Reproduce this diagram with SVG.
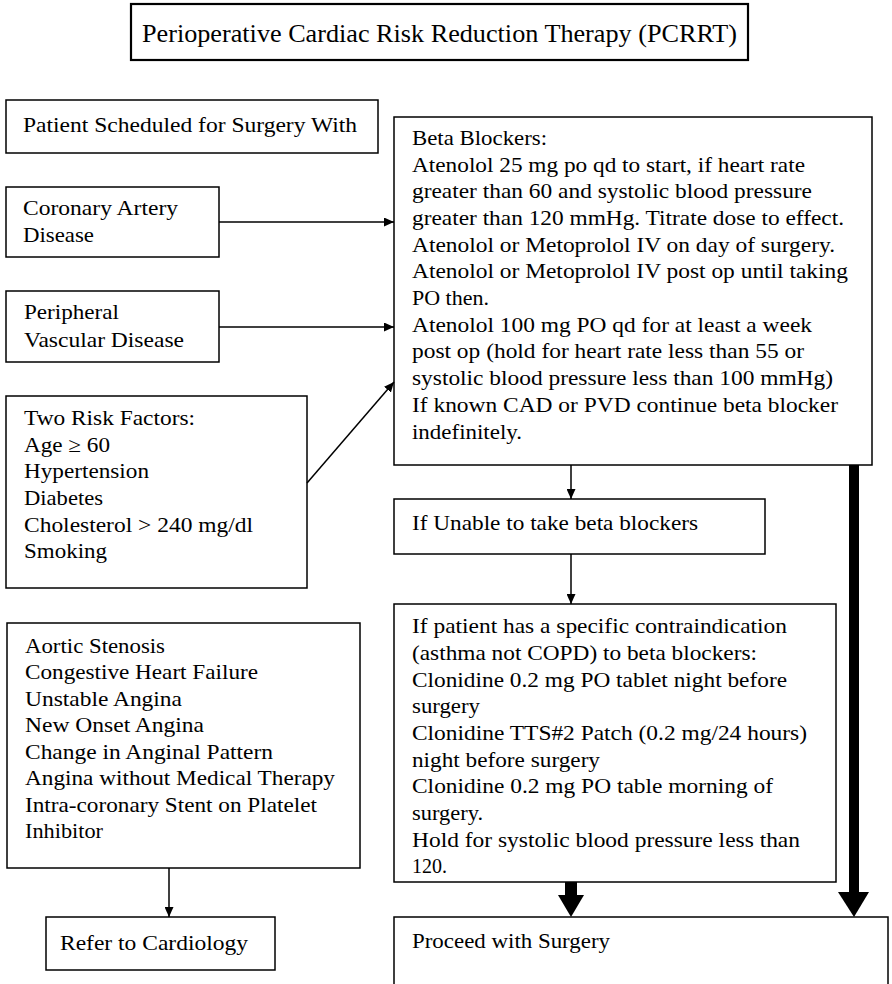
<svg xmlns="http://www.w3.org/2000/svg" width="892" height="984" viewBox="0 0 892 984">
<style>
.bg{fill:#ffffff}
.box{fill:#ffffff;stroke:#000000;stroke-width:1.5}
.tbox{fill:#ffffff;stroke:#000000;stroke-width:2.2}
.t{font-family:"Liberation Serif","Times New Roman",serif;font-size:21px;fill:#000000}
.title{font-family:"Liberation Serif","Times New Roman",serif;font-size:25px;fill:#000000}
.ln{stroke:#000000;stroke-width:1.5;fill:none}
.thick{fill:#000000;stroke:none}
</style>
<defs>
<marker id="ah" markerUnits="userSpaceOnUse" markerWidth="11" markerHeight="9" refX="10" refY="4.5" orient="auto">
<path d="M0,0 L10,4.5 L0,9 Z" fill="#000000"/>
</marker>
</defs>
<rect class="bg" x="0" y="0" width="892" height="984"/>

<g id="title">
<rect class="tbox" x="131" y="4" width="617" height="56"/>
<text class="title" x="142" y="42" textLength="595" lengthAdjust="spacingAndGlyphs">Perioperative Cardiac Risk Reduction Therapy (PCRRT)</text>
</g>

<g id="patient">
<rect class="box" x="6" y="100" width="372" height="53"/>
<text class="t" x="23" y="132" textLength="334" lengthAdjust="spacingAndGlyphs">Patient Scheduled for Surgery With</text>
</g>

<g id="cad">
<rect class="box" x="6" y="187" width="213" height="70"/>
<text class="t" x="23" y="215" textLength="155" lengthAdjust="spacingAndGlyphs">Coronary Artery</text>
<text class="t" x="23" y="242" textLength="71" lengthAdjust="spacingAndGlyphs">Disease</text>
</g>

<g id="pvd">
<rect class="box" x="6" y="291" width="213" height="71"/>
<text class="t" x="24" y="319" textLength="95" lengthAdjust="spacingAndGlyphs">Peripheral</text>
<text class="t" x="24" y="347" textLength="160" lengthAdjust="spacingAndGlyphs">Vascular Disease</text>
</g>

<g id="risk">
<rect class="box" x="6" y="396" width="301" height="192"/>
<text class="t" x="24" y="425" textLength="171" lengthAdjust="spacingAndGlyphs">Two Risk Factors:</text>
<text class="t" x="24" y="452" textLength="86" lengthAdjust="spacingAndGlyphs">Age ≥ 60</text>
<text class="t" x="24" y="478" textLength="125" lengthAdjust="spacingAndGlyphs">Hypertension</text>
<text class="t" x="24" y="505" textLength="79" lengthAdjust="spacingAndGlyphs">Diabetes</text>
<text class="t" x="24" y="532" textLength="229" lengthAdjust="spacingAndGlyphs">Cholesterol &gt; 240 mg/dl</text>
<text class="t" x="24" y="558" textLength="83" lengthAdjust="spacingAndGlyphs">Smoking</text>
</g>

<g id="aortic">
<rect class="box" x="7" y="623" width="353" height="245"/>
<text class="t" x="25" y="653" textLength="140" lengthAdjust="spacingAndGlyphs">Aortic Stenosis</text>
<text class="t" x="25" y="679" textLength="233" lengthAdjust="spacingAndGlyphs">Congestive Heart Failure</text>
<text class="t" x="25" y="706" textLength="157" lengthAdjust="spacingAndGlyphs">Unstable Angina</text>
<text class="t" x="25" y="732" textLength="179" lengthAdjust="spacingAndGlyphs">New Onset Angina</text>
<text class="t" x="25" y="759" textLength="248" lengthAdjust="spacingAndGlyphs">Change in Anginal Pattern</text>
<text class="t" x="25" y="785" textLength="310" lengthAdjust="spacingAndGlyphs">Angina without Medical Therapy</text>
<text class="t" x="25" y="812" textLength="292" lengthAdjust="spacingAndGlyphs">Intra-coronary Stent on Platelet</text>
<text class="t" x="25" y="838" textLength="78" lengthAdjust="spacingAndGlyphs">Inhibitor</text>
</g>

<g id="refer">
<rect class="box" x="46" y="917" width="229" height="53"/>
<text class="t" x="60" y="950" textLength="188" lengthAdjust="spacingAndGlyphs">Refer to Cardiology</text>
</g>

<g id="beta">
<rect class="box" x="394" y="117" width="478" height="348"/>
<text class="t" x="412" y="145" textLength="135" lengthAdjust="spacingAndGlyphs">Beta Blockers:</text>
<text class="t" x="412" y="172" textLength="393" lengthAdjust="spacingAndGlyphs">Atenolol 25 mg po qd to start, if heart rate</text>
<text class="t" x="412" y="198" textLength="400" lengthAdjust="spacingAndGlyphs">greater than 60 and systolic blood pressure</text>
<text class="t" x="412" y="225" textLength="432" lengthAdjust="spacingAndGlyphs">greater than 120 mmHg. Titrate dose to effect.</text>
<text class="t" x="412" y="252" textLength="423" lengthAdjust="spacingAndGlyphs">Atenolol or Metoprolol IV on day of surgery.</text>
<text class="t" x="412" y="278" textLength="436" lengthAdjust="spacingAndGlyphs">Atenolol or Metoprolol IV post op until taking</text>
<text class="t" x="412" y="305" textLength="77" lengthAdjust="spacingAndGlyphs">PO then.</text>
<text class="t" x="412" y="332" textLength="400" lengthAdjust="spacingAndGlyphs">Atenolol 100 mg PO qd for at least a week</text>
<text class="t" x="412" y="358" textLength="392" lengthAdjust="spacingAndGlyphs">post op (hold for heart rate less than 55 or</text>
<text class="t" x="412" y="385" textLength="421" lengthAdjust="spacingAndGlyphs">systolic blood pressure less than 100 mmHg)</text>
<text class="t" x="412" y="412" textLength="426" lengthAdjust="spacingAndGlyphs">If known CAD or PVD continue beta blocker</text>
<text class="t" x="412" y="439" textLength="110" lengthAdjust="spacingAndGlyphs">indefinitely.</text>
</g>

<g id="unable">
<rect class="box" x="394" y="499" width="371" height="55"/>
<text class="t" x="412" y="530" textLength="286" lengthAdjust="spacingAndGlyphs">If Unable to take beta blockers</text>
</g>

<g id="contra">
<rect class="box" x="394" y="604" width="442" height="278"/>
<text class="t" x="412" y="633" textLength="375" lengthAdjust="spacingAndGlyphs">If patient has a specific contraindication</text>
<text class="t" x="412" y="660" textLength="345" lengthAdjust="spacingAndGlyphs">(asthma not COPD) to beta blockers:</text>
<text class="t" x="412" y="687" textLength="375" lengthAdjust="spacingAndGlyphs">Clonidine 0.2 mg PO tablet night before</text>
<text class="t" x="412" y="713" textLength="68" lengthAdjust="spacingAndGlyphs">surgery</text>
<text class="t" x="412" y="740" textLength="395" lengthAdjust="spacingAndGlyphs">Clonidine TTS#2 Patch (0.2 mg/24 hours)</text>
<text class="t" x="412" y="767" textLength="188" lengthAdjust="spacingAndGlyphs">night before surgery</text>
<text class="t" x="412" y="793" textLength="361" lengthAdjust="spacingAndGlyphs">Clonidine 0.2 mg PO table morning of</text>
<text class="t" x="412" y="820" textLength="71" lengthAdjust="spacingAndGlyphs">surgery.</text>
<text class="t" x="412" y="847" textLength="388" lengthAdjust="spacingAndGlyphs">Hold for systolic blood pressure less than</text>
<text class="t" x="412" y="873" textLength="35" lengthAdjust="spacingAndGlyphs">120.</text>
</g>

<g id="proceed">
<rect class="box" x="394" y="917" width="494" height="80"/>
<text class="t" x="412" y="948" textLength="198" lengthAdjust="spacingAndGlyphs">Proceed with Surgery</text>
</g>

<g id="connectors">
<line class="ln" x1="219" y1="222" x2="394" y2="222" marker-end="url(#ah)"/>
<line class="ln" x1="219" y1="327" x2="394" y2="327" marker-end="url(#ah)"/>
<line class="ln" x1="307" y1="483" x2="394" y2="382" marker-end="url(#ah)"/>
<line class="ln" x1="571" y1="465" x2="571" y2="499" marker-end="url(#ah)"/>
<line class="ln" x1="571" y1="554" x2="571" y2="604" marker-end="url(#ah)"/>
<line class="ln" x1="169" y1="868" x2="169" y2="917" marker-end="url(#ah)"/>
<rect class="thick" x="565" y="882" width="12" height="14"/>
<polygon class="thick" points="558,895 584,895 571,917"/>
<rect class="thick" x="849" y="465" width="10" height="428"/>
<polygon class="thick" points="838,892 869,892 854,917"/>
</g>
</svg>
